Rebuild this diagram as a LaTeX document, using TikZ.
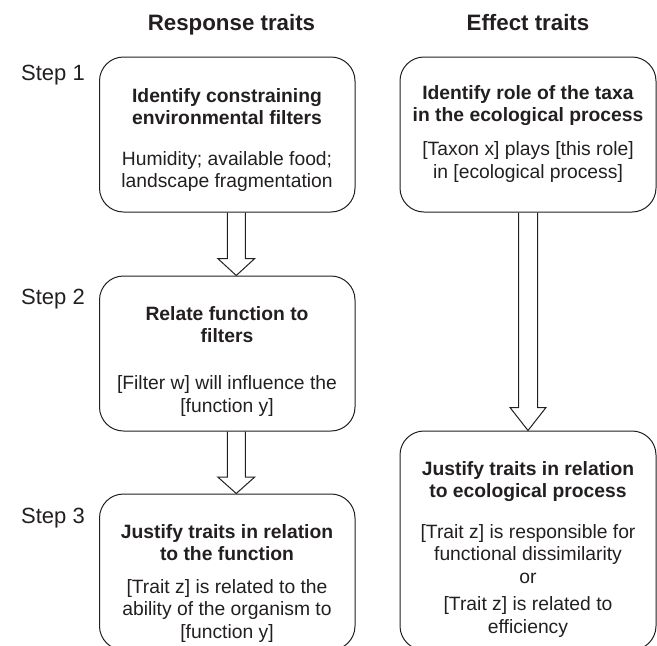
\documentclass[tikz,border=0pt]{standalone}
\usepackage{fontspec}
\setmainfont{Liberation Sans}
\usetikzlibrary{calc}
\definecolor{ink}{HTML}{231F20}
\newcommand{\blockarrow}[6]{%
  \draw[barrow] let \p1=(#1.south), \p2=(#2.north) in
    (\x1+#3-#4,\y1) -- (\x1+#3-#4,\y2+#6) -- (\x1+#3-#5,\y2+#6) -- (\x1+#3,\y2)
    -- (\x1+#3+#5,\y2+#6) -- (\x1+#3+#4,\y2+#6) -- (\x1+#3+#4,\y1);}
\begin{document}
\begin{tikzpicture}[x=1pt,y=-1pt,
  box/.style={draw=ink,line width=1pt,rounded corners=24pt,minimum width=255.5pt,inner sep=0pt},
  txt/.style={text=ink,align=center,inner sep=0pt,anchor=north,font=\fontsize{19.3}{22.7}\selectfont},
  title/.style={text=ink,inner sep=0pt,anchor=base,font=\fontsize{22.3}{26}\selectfont\bfseries},
  steplabel/.style={text=ink,inner sep=0pt,anchor=base west,font=\fontsize{22}{26}\selectfont},
  barrow/.style={draw=ink,line width=1pt,line join=miter}]
\useasboundingbox (0,0) rectangle (657,646);
% titles
\node[title] (tr) at (231.5,30) {Response traits};
\node[title] (te) at (528,30) {Effect traits};
% step labels
\node[steplabel] (s1) at (21,80) {Step 1};
\node[steplabel] (s2) at (21,304) {Step 2};
\node[steplabel] (s3) at (21,523) {Step 3};
% boxes
\node[box,minimum height=155pt] (b1) at (227.25,134.5) {};
\node[box,minimum height=155pt] (b2) at (227.25,353.5) {};
\node[box,minimum height=156pt] (b3) at (227.25,572) {};
\node[box,minimum width=256pt,minimum height=155pt] (e1) at (528,134.5) {};
\node[box,minimum width=256pt,minimum height=219pt] (e2) at (528,540.5) {};
% texts
\node[txt] (t1) at (227,86) {\rule{0pt}{16pt}\textbf{Identify constraining}\\ \textbf{environmental filters}\\[17.5pt] Humidity; available food;\\ landscape fragmentation};
\node[txt] (t2) at (227,304) {\rule{0pt}{16pt}\textbf{Relate function to}\\ \textbf{filters}\\[24pt] [Filter w] will influence the\\{}[function y]};
\node[txt] (t3) at (227,522) {\rule{0pt}{16pt}\textbf{Justify traits in relation}\\ \textbf{to the function}\\[9.5pt] [Trait z] is related to the\\ ability of the organism to\\{}[function y]};
\node[txt] (u1) at (528,83) {\rule{0pt}{16pt}\textbf{Identify role of the taxa}\\ \textbf{in the ecological process}\\[11pt] [Taxon x] plays [this role]\\ in [ecological process]};
\node[txt] (u2) at (528,459) {\rule{0pt}{16pt}\textbf{Justify traits in relation}\\ \textbf{to ecological process}\\[17.5pt] [Trait z] is responsible for\\ functional dissimilarity\\ or\\[4.5pt] [Trait z] is related to\\ efficiency};
% block arrows
\blockarrow{b1}{b2}{9pt}{9pt}{18.5pt}{17pt}
\blockarrow{b2}{b3}{9pt}{9pt}{18.5pt}{16.5pt}
\blockarrow{e1}{e2}{0pt}{9.5pt}{18pt}{23pt}
\end{tikzpicture}
\end{document}
